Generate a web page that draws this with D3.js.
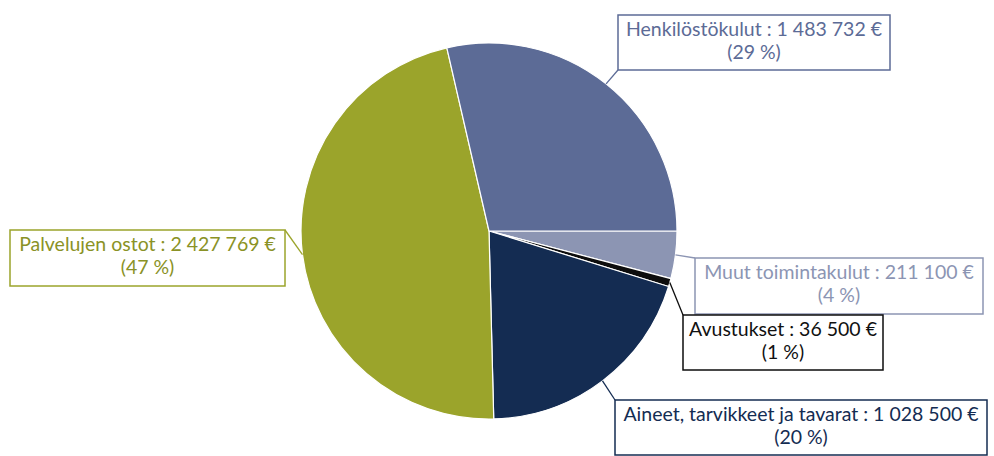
<!DOCTYPE html>
<html>
<head>
<meta charset="utf-8">
<script src="https://cdn.jsdelivr.net/npm/d3@7"></script>
<style>
  body { margin: 0; background: #fff; }
  svg { display: block; }
  text { font-family: Lato, "Open Sans", sans-serif; }
</style>
</head>
<body>
<script>
var w = 994; // Width of the page
var h = 456; // Height of the page

// Data, in the order the slices run clockwise from 3 o'clock
var categories = ["Muut toimintakulut", "Avustukset", "Aineet, tarvikkeet ja tavarat", "Palvelujen ostot", "Henkilöstökulut"];
var values = [211100, 36500, 1028500, 2427769, 1483732];
var colors = ["#8c95b3", "#0d0d0d", "#142c52", "#9ba42b", "#5c6b96"];
var textColors = ["#8c95b3", "#111111", "#142c52", "#8a9226", "#5c6b96"];

// Label boxes: left, top, width, height (layout only)
var boxes = [
    [695, 258, 288, 56],
    [683, 315, 200, 55],
    [615, 400, 372, 55],
    [10, 230, 275, 56],
    [618, 15, 272, 55]
];

var cx = 489, cy = 231, r = 188;

var total = d3.sum(values);
var fmt = function(v) { return d3.format(",")(v).replace(/,/g, " "); };

var svg = d3.select("body")
    .append("svg")
    .attr("width", w)
    .attr("height", h);

var pie = d3.pie()
    .sort(null)
    .startAngle(Math.PI / 2)
    .endAngle(Math.PI / 2 + 2 * Math.PI);

var arcs = pie(values);

var arc = d3.arc().innerRadius(0).outerRadius(r);

var g = svg.append("g")
    .attr("transform", "translate(" + cx + "," + cy + ")");

// Slices
g.selectAll("path")
    .data(arcs)
    .join("path")
    .attr("d", arc)
    .attr("fill", function(d, i) { return colors[i]; })
    .attr("stroke", "#fff")
    .attr("stroke-width", 1.2);

// Leader lines: from slice edge to nearest box corner
svg.selectAll("line.leader")
    .data(arcs)
    .join("line")
    .attr("class", "leader")
    .each(function(d, i) {
        var a = (d.startAngle + d.endAngle) / 2;
        var px = cx + r * Math.sin(a), py = cy - r * Math.cos(a);
        var b = boxes[i];
        var corners = [[b[0], b[1]], [b[0] + b[2], b[1]], [b[0], b[1] + b[3]], [b[0] + b[2], b[1] + b[3]]];
        var best = corners[0], bd = Infinity;
        corners.forEach(function(c) {
            var dd = (c[0] - px) * (c[0] - px) + (c[1] - py) * (c[1] - py);
            if (dd < bd) { bd = dd; best = c; }
        });
        d3.select(this)
            .attr("x1", px).attr("y1", py)
            .attr("x2", best[0]).attr("y2", best[1]);
    })
    .attr("stroke", function(d, i) { return colors[i]; })
    .attr("stroke-width", 1.3);

// Label boxes
var lab = svg.selectAll("g.label")
    .data(arcs)
    .join("g")
    .attr("class", "label");

lab.append("rect")
    .attr("x", function(d, i) { return boxes[i][0]; })
    .attr("y", function(d, i) { return boxes[i][1]; })
    .attr("width", function(d, i) { return boxes[i][2]; })
    .attr("height", function(d, i) { return boxes[i][3]; })
    .attr("fill", "#fff")
    .attr("stroke", function(d, i) { return colors[i]; })
    .attr("stroke-width", 1.5);

lab.append("text")
    .attr("x", function(d, i) { return boxes[i][0] + boxes[i][2] / 2; })
    .attr("y", function(d, i) { return boxes[i][1] + 21; })
    .attr("text-anchor", "middle")
    .attr("font-size", "19.5px")
    .attr("fill", function(d, i) { return textColors[i]; })
    .text(function(d, i) { return categories[i] + " : " + fmt(values[i]) + " €"; });

lab.append("text")
    .attr("x", function(d, i) { return boxes[i][0] + boxes[i][2] / 2; })
    .attr("y", function(d, i) { return boxes[i][1] + 44; })
    .attr("text-anchor", "middle")
    .attr("font-size", "19.5px")
    .attr("fill", function(d, i) { return textColors[i]; })
    .text(function(d, i) { return "(" + Math.round(values[i] / total * 100) + " %)"; });
</script>
</body>
</html>
